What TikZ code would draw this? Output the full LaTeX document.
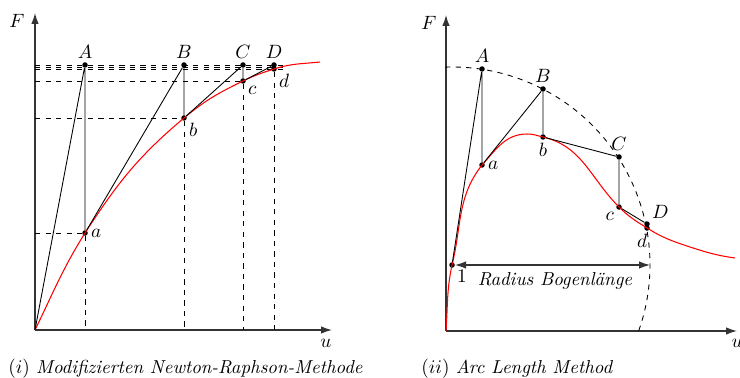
\documentclass[tikz,border=0pt]{standalone}
\usepackage{amsmath}
\usetikzlibrary{arrows.meta, positioning}

\begin{document}
\begin{tikzpicture}[
  x=0.2mm, y=0.2mm,
  every node/.style={font=\fontsize{10.7}{13}\selectfont},
  axis/.style={line width=0.7pt, draw=black!80, -{Latex[length=2.2mm, width=1.5mm]}},
  pt/.style={circle, fill=black, inner sep=0pt, minimum size=1.1mm},
  lbl/.style={inner sep=1.5pt},
  guide/.style={dashed, line width=0.5pt},
  iter/.style={line width=0.5pt},
  curve/.style={red, line width=0.6pt},
  dim/.style={{Latex[length=2.2mm, width=1.5mm]}-{Latex[length=2.2mm, width=1.5mm]}, line width=0.6pt, draw=black!80},
  captxt/.style={anchor=base west, inner sep=0pt}
]
\useasboundingbox (0,0) rectangle (740,377);

% (i) modified Newton-Raphson
\coordinate (O1) at (35,47);
\coordinate (yT1) at (35,364);
\coordinate (xT1) at (332,47);
\draw[axis] (O1) -- (yT1);
\draw[axis] (O1) -- (xT1);
\node (F1) at (17,356) {$F$};
\node (u1) at (326,34) {$u$};

\node[pt] (A1) at (85,312) {};
\node[pt] (B1) at (184,312) {};
\node[pt] (C1) at (243,312) {};
\node[pt] (D1) at (274,312) {};
\node[pt] (a1) at (85,144) {};
\node[pt] (b1) at (184,259) {};
\node[pt] (c1) at (243,296) {};
\node[pt] (d1) at (274,308) {};

\coordinate (gA1) at (286,312);
\coordinate (gM1) at (286,310);
\coordinate (gD1) at (286,308);
\draw[guide] (A1 -| O1) -- (gA1);
\draw[guide] (gM1 -| O1) -- (gM1);
\draw[guide] (d1 -| O1) -- (gD1);
\draw[guide] (c1 -| O1) -- (c1);
\draw[guide] (b1 -| O1) -- (b1);
\draw[guide] (a1 -| O1) -- (a1);
\foreach \p in {a1, b1, c1, d1}
  \draw[guide] (\p) -- (\p |- O1);

\draw[curve] (O1) to[out=64, in=-122] (a1.center) to[out=57, in=-140] (b1.center)
  to[out=40, in=-154] (c1.center) to[out=26, in=-162] (d1.center) to[out=18, in=-174] (320,315);
\draw[iter] (O1) -- (A1) -- (a1) -- (B1) -- (b1) -- (C1) -- (c1) -- (D1) -- (d1);

\node[lbl, above=0pt of A1] (lA1) {$A$};
\node[lbl, above=0pt of B1] (lB1) {$B$};
\node[lbl, above=0pt of C1] (lC1) {$C$};
\node[lbl, above=0pt of D1] (lD1) {$D$};
\node[lbl, right=0pt of a1] (la1) {$a$};
\node[lbl, below right=0pt of b1] (lb1) {$b$};
\node[lbl, below right=0pt of c1] (lc1) {$c$};
\node[lbl, below right=0pt of d1] (ld1) {$d$};

\node[captxt] (cap1) at (8,4) {$(i)$ \textit{Modifizierten Newton-Raphson-Methode}};

% (ii) arc length method
\coordinate (O2) at (446,46);
\coordinate (yT2) at (446,362);
\coordinate (xT2) at (737,46);
\draw[axis] (O2) -- (yT2);
\draw[axis] (O2) -- (xT2);
\node (F2) at (429,354) {$F$};
\node (u2) at (737,34) {$u$};

\node[pt] (p1) at (452,112) {};
\node[pt] (A2) at (482,308) {};
\node[pt] (a2) at (482,212) {};
\node[pt] (B2) at (543,288) {};
\node[pt] (b2) at (543,240) {};
\node[pt] (C2) at (619,220) {};
\node[pt] (c2) at (619,170) {};
\node[pt] (D2) at (647,153) {};
\node[pt] (d2) at (647,149) {};

\draw[guide] (p1.center) ++(92:198) arc[start angle=92, end angle=-19.5, radius=198];
\draw[curve] (O2) to[out=86, in=258] (p1.center) to[out=76, in=232] (a2.center)
  to[out=48, in=180] (527,243) to[out=0, in=167] (b2.center)
  to[out=-13, in=135] (c2.center)
  to[out=-45, in=148] (d2.center) to[out=-32, in=162] (690,130) to[out=-18, in=172] (735,119);
\draw[iter] (p1) -- (A2) -- (a2) -- (B2) -- (b2) -- (C2) -- (c2) -- (D2) -- (d2);

\coordinate (rE) at (650,112);
\draw[dim] (p1) -- (rE);
\node (rad) at (555,96) {\textit{Radius Bogenlänge}};

\node[lbl, below right=0pt of p1] (l1) {$1$};
\node[lbl, above=0pt of A2] (lA2) {$A$};
\node[lbl, right=0pt of a2] (la2) {$a$};
\node[lbl, above=0pt of B2] (lB2) {$B$};
\node[lbl, below=0pt of b2] (lb2) {$b$};
\node[lbl, above=0pt of C2] (lC2) {$C$};
\node[lbl, below left=0pt of c2] (lc2) {$c$};
\node[lbl, above right=0pt of D2] (lD2) {$D$};
\node[lbl, below=0pt of d2, xshift=-1mm] (ld2) {$d$};

\node[captxt] (cap2) at (421,4) {$(ii)$ \textit{Arc Length Method}};
\end{tikzpicture}
\end{document}
